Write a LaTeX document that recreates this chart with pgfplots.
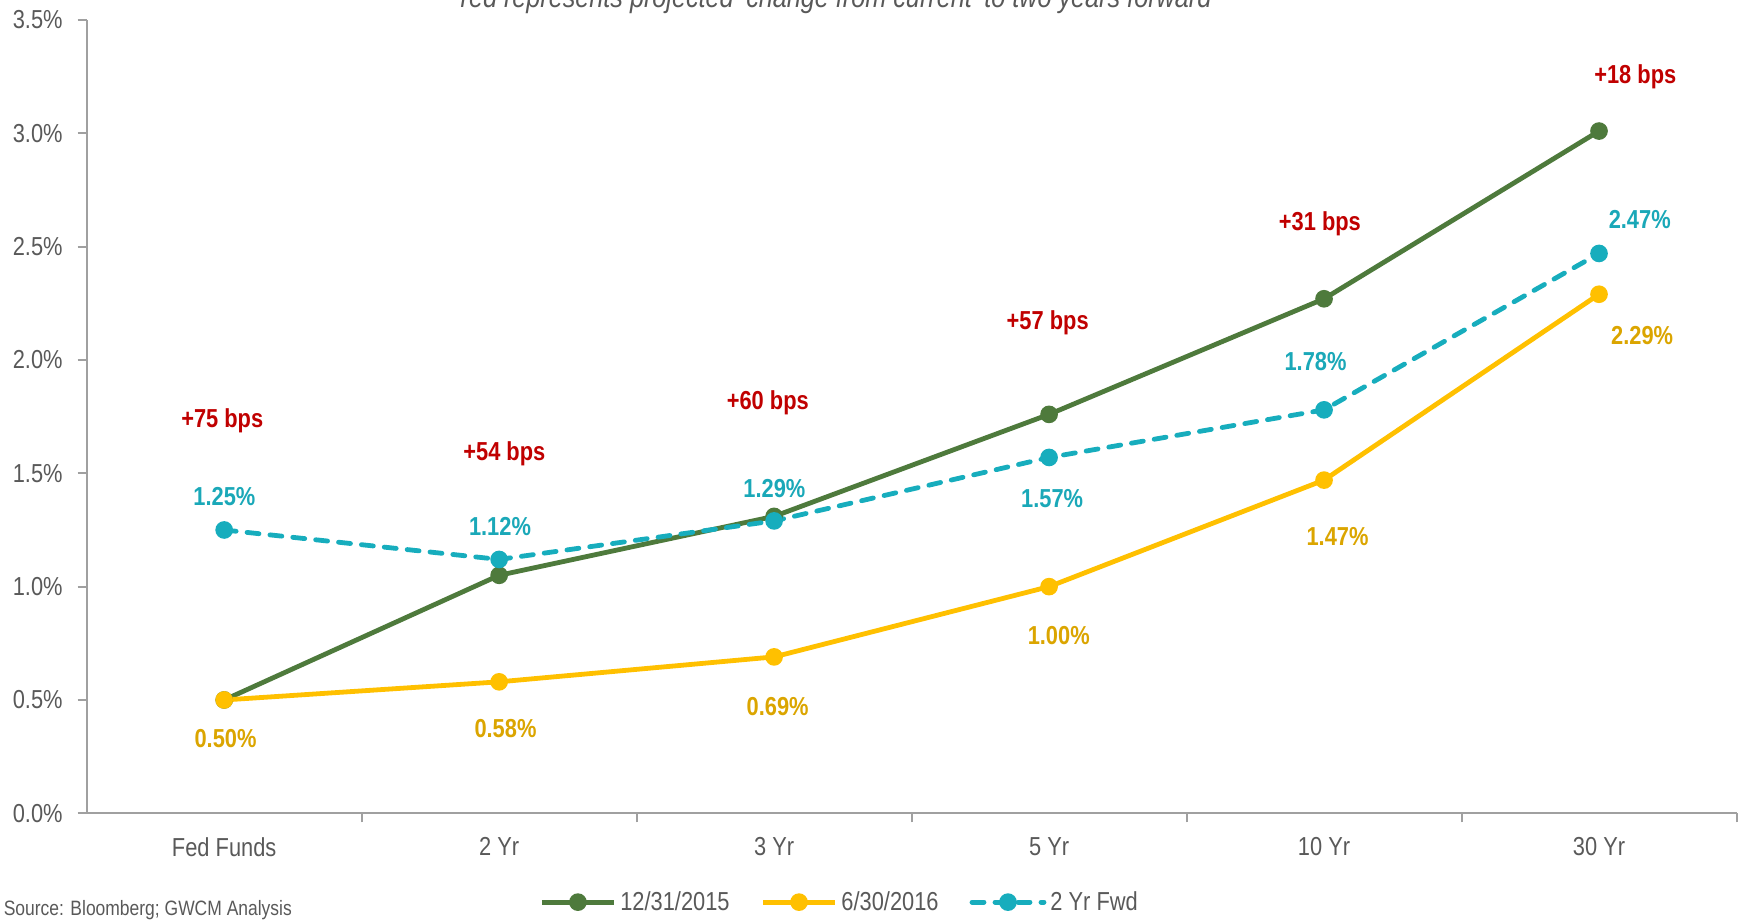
\documentclass[border=0pt]{standalone}
\usepackage{pgfplots}
\pgfplotsset{compat=1.18}
\usepackage{fontspec}
\setmainfont[FakeStretch=0.84]{Liberation Sans}
\definecolor{cgreen}{HTML}{4E7A3C}
\definecolor{cyellow}{HTML}{FFC000}
\definecolor{cteal}{HTML}{17ADBD}
\definecolor{lyellow}{HTML}{DBA500}
\definecolor{lteal}{HTML}{1AA8B8}
\definecolor{cred}{HTML}{C00000}
\definecolor{labelgray}{HTML}{595959}
\definecolor{axisgray}{HTML}{A0A0A0}
\begin{document}
\begin{tikzpicture}
\begin{axis}[
  at={(43.35pt,53.35pt)}, anchor=south west,
  scale only axis, width=824.9pt, height=396.65pt,
  xmin=0, xmax=6, ymin=0, ymax=3.5,
  axis x line=bottom, axis y line=left,
  axis line style={draw=axisgray, line width=1pt, -},
  tick align=outside,
  major tick length=4.5pt,
  tick style={draw=axisgray, line width=1pt},
  xtick={1,2,3,4,5,6},
  xticklabels={},
  extra x ticks={0.5,1.5,2.5,3.5,4.5,5.5},
  extra x tick labels={Fed Funds,2 Yr,3 Yr,5 Yr,10 Yr,30 Yr},
  extra x tick style={major tick length=0pt, xticklabel style={yshift=-8.5pt}},
  ytick={0,0.5,...,3.5},
  yticklabel={\pgfmathprintnumber[fixed,fixed zerofill,precision=1]{\tick}\%},
  /pgf/number format/assume math mode=true,
  ticklabel style={font=\fontsize{13}{15}\selectfont, text=labelgray},
  yticklabel style={xshift=-4pt},
  legend columns=3,
  legend style={draw=none, at={(0.457,-0.112)}, anchor=center,
    font=\fontsize{13}{15}\selectfont, text=labelgray,
    /tikz/every even column/.append style={column sep=13.5pt}},
  legend image code/.code={\draw[mark repeat=2,mark phase=2,#1] plot coordinates {(0pt,0pt) (18pt,0pt) (36pt,0pt)};},
  every axis plot/.append style={line width=2.4pt, mark=*, mark size=3.2pt, mark options={solid}},
  clip=false,
]
\addplot[color=cgreen] coordinates {(0.5,0.50) (1.5,1.05) (2.5,1.31) (3.5,1.76) (4.5,2.27) (5.5,3.01)};
\addlegendentry{12/31/2015}
\addplot[color=cyellow] coordinates {(0.5,0.50) (1.5,0.58) (2.5,0.69) (3.5,1.00) (4.5,1.47) (5.5,2.29)};
\addlegendentry{6/30/2016}
\addplot[color=cteal, dash pattern=on 6pt off 5.5pt, line cap=round] coordinates {(0.5,1.25) (1.5,1.12) (2.5,1.29) (3.5,1.57) (4.5,1.78) (5.5,2.47)};
\addlegendentry{2 Yr Fwd}
% yellow labels
\begin{scope}[every node/.style={font=\fontsize{13}{15}\selectfont\bfseries, text=lyellow}]
\node at (axis cs:0.505,0.328) {0.50\%};
\node at (axis cs:1.523,0.373) {0.58\%};
\node at (axis cs:2.513,0.471) {0.69\%};
\node at (axis cs:3.535,0.784) {1.00\%};
\node at (axis cs:4.549,1.221) {1.47\%};
\node at (axis cs:5.657,2.108) {2.29\%};
\end{scope}
\begin{scope}[every node/.style={font=\fontsize{13}{15}\selectfont\bfseries, text=lteal}]
\node at (axis cs:0.501,1.397) {1.25\%};
\node at (axis cs:1.503,1.265) {1.12\%};
\node at (axis cs:2.501,1.431) {1.29\%};
\node at (axis cs:3.511,1.387) {1.57\%};
\node at (axis cs:4.469,1.995) {1.78\%};
\node at (axis cs:5.648,2.618) {2.47\%};
\end{scope}
\begin{scope}[every node/.style={font=\fontsize{13}{15}\selectfont\bfseries, text=cred}]
\node at (axis cs:0.493,1.730) {+75 bps};
\node at (axis cs:1.519,1.588) {+54 bps};
\node at (axis cs:2.477,1.809) {+60 bps};
\node at (axis cs:3.495,2.162) {+57 bps};
\node at (axis cs:4.485,2.603) {+31 bps};
\node at (axis cs:5.632,3.250) {+18 bps};
\end{scope}
\end{axis}
\node[anchor=base, font=\fontsize{15}{17}\selectfont\itshape, text=labelgray] at (418pt,456pt) {red represents projected ‘change from current’ to two years forward};
\node[anchor=base west, inner sep=0pt, font=\fontsize{10.4}{12}\selectfont, text=labelgray] at (1.7pt,2pt) {Source: Bloomberg; GWCM Analysis};
\pgfresetboundingbox
\path[use as bounding box] (0,0) rectangle (871pt,460pt);
\end{tikzpicture}
\end{document}
